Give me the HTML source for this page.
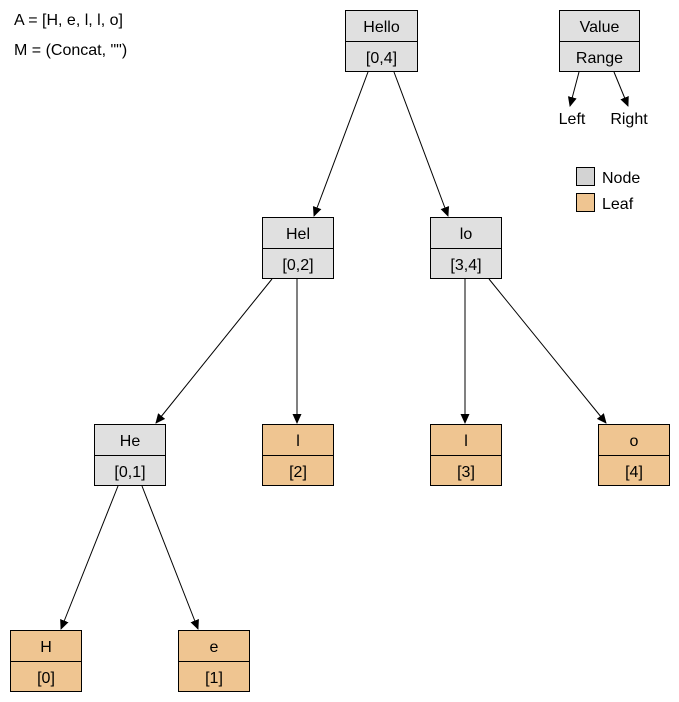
<!DOCTYPE html>
<html><head><style>body{margin:0;background:#fff}svg{display:block}text{font-family:"Liberation Sans",Arial,sans-serif;font-size:16px;fill:#000}</style></head><body>
<svg width="679" height="702" viewBox="0 0 679 702">
<defs><marker id="a" markerWidth="10" markerHeight="10" refX="9" refY="5" orient="auto" markerUnits="userSpaceOnUse"><path d="M0,0.5 L10,5 L0,9.5 z" fill="#000"/></marker></defs>
<text x="14" y="25">A = [H, e, l, l, o]</text>
<text x="14" y="55">M = (Concat, "")</text>
<g stroke="#000" stroke-width="1" marker-end="url(#a)">
<line x1="368" y1="72" x2="314" y2="216"/>
<line x1="394" y1="72" x2="448" y2="216"/>
<line x1="272" y1="279" x2="156" y2="423"/>
<line x1="297" y1="279" x2="297" y2="423"/>
<line x1="465" y1="279" x2="465" y2="423"/>
<line x1="489" y1="279" x2="606" y2="423"/>
<line x1="118" y1="486" x2="61" y2="629"/>
<line x1="142" y1="486" x2="198" y2="629"/>
<line x1="579" y1="72" x2="570" y2="106"/>
<line x1="614" y1="72" x2="628" y2="106"/>
</g>
<g stroke="#000" stroke-width="1">
<rect x="345.5" y="10.5" width="72" height="61" fill="#e0e0e0"/><line x1="345" y1="41.5" x2="418" y2="41.5"/>
<rect x="559.5" y="10.5" width="80" height="61" fill="#e0e0e0"/><line x1="559" y1="41.5" x2="640" y2="41.5"/>
<rect x="262.5" y="217.5" width="71" height="61" fill="#e0e0e0"/><line x1="262" y1="248.5" x2="334" y2="248.5"/>
<rect x="430.5" y="217.5" width="71" height="61" fill="#e0e0e0"/><line x1="430" y1="248.5" x2="502" y2="248.5"/>
<rect x="94.5" y="424.5" width="71" height="61" fill="#e0e0e0"/><line x1="94" y1="455.5" x2="166" y2="455.5"/>
<rect x="262.5" y="424.5" width="71" height="61" fill="#efc591"/><line x1="262" y1="455.5" x2="334" y2="455.5"/>
<rect x="430.5" y="424.5" width="71" height="61" fill="#efc591"/><line x1="430" y1="455.5" x2="502" y2="455.5"/>
<rect x="598.5" y="424.5" width="71" height="61" fill="#efc591"/><line x1="598" y1="455.5" x2="670" y2="455.5"/>
<rect x="10.5" y="630.5" width="71" height="61" fill="#efc591"/><line x1="10" y1="661.5" x2="82" y2="661.5"/>
<rect x="178.5" y="630.5" width="71" height="61" fill="#efc591"/><line x1="178" y1="661.5" x2="250" y2="661.5"/>
<rect x="576.5" y="167.5" width="18" height="18" fill="#d3d3d3"/>
<rect x="576.5" y="193.5" width="18" height="18" fill="#efc591"/>
</g>
<g text-anchor="middle">
<text x="381.5" y="32">Hello</text><text x="381.5" y="63">[0,4]</text>
<text x="599.5" y="32">Value</text><text x="599.5" y="63">Range</text>
<text x="298" y="239">Hel</text><text x="298" y="270">[0,2]</text>
<text x="466" y="239">lo</text><text x="466" y="270">[3,4]</text>
<text x="130" y="446">He</text><text x="130" y="477">[0,1]</text>
<text x="298" y="446">l</text><text x="298" y="477">[2]</text>
<text x="466" y="446">l</text><text x="466" y="477">[3]</text>
<text x="634" y="446">o</text><text x="634" y="477">[4]</text>
<text x="46" y="652">H</text><text x="46" y="683">[0]</text>
<text x="214" y="652">e</text><text x="214" y="683">[1]</text>
<text x="572" y="124">Left</text><text x="629" y="124">Right</text>
</g>
<text x="602" y="183">Node</text>
<text x="602" y="209">Leaf</text>
</svg>
</body></html>
